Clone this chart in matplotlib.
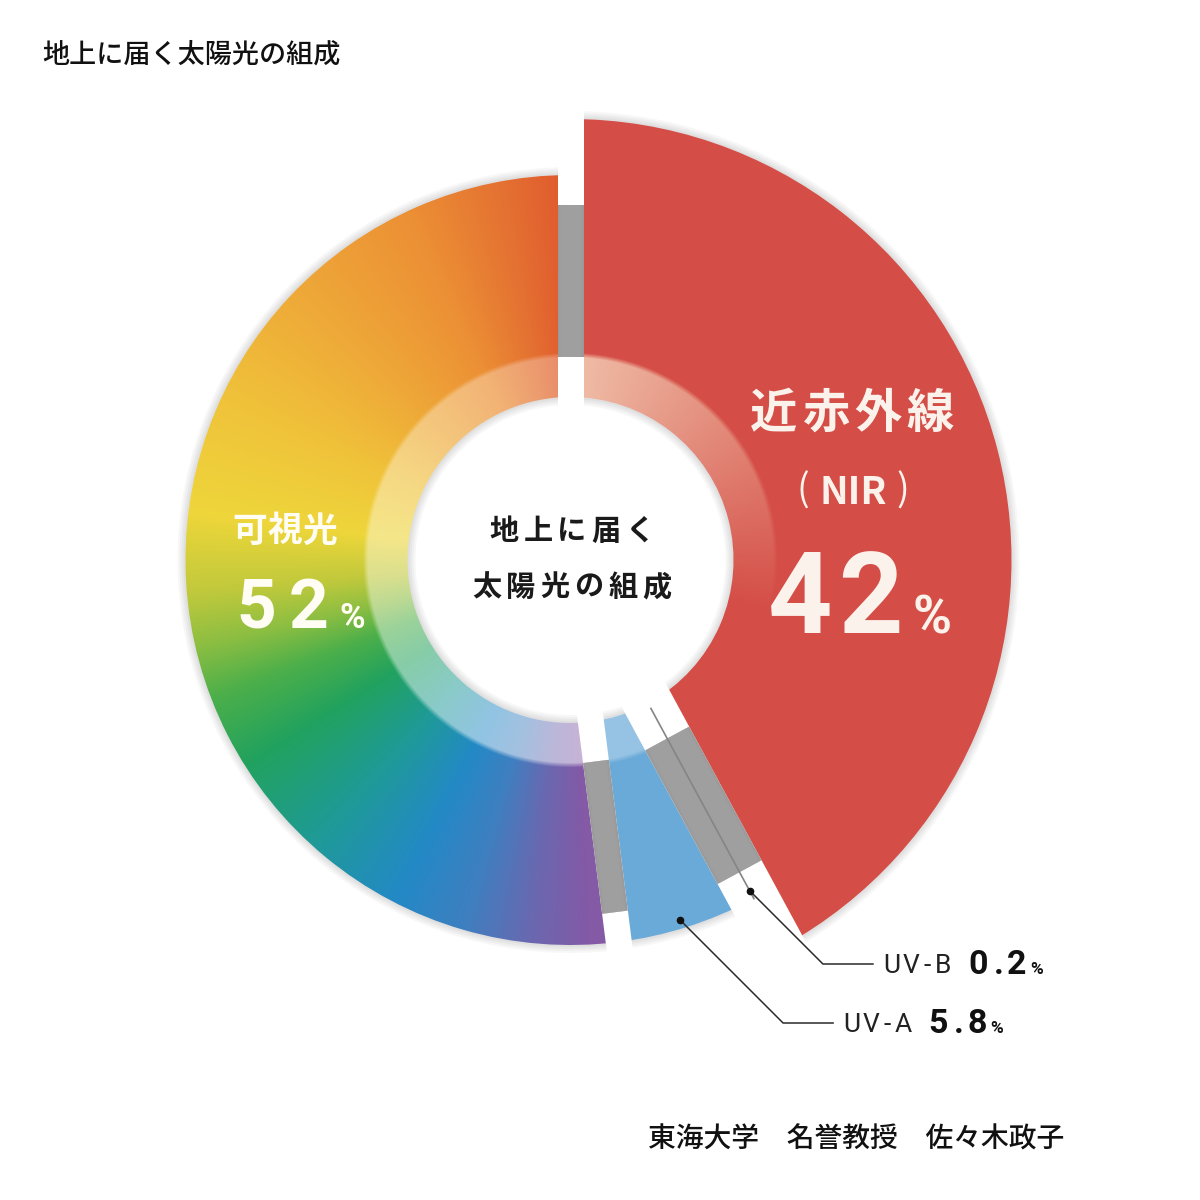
import numpy as np
import matplotlib.pyplot as plt
from matplotlib.patches import Wedge, Polygon
from matplotlib.colors import to_rgb

plt.rcParams['font.family'] = ['Noto Sans CJK JP', 'DejaVu Sans']

# --- data -------------------------------------------------------------
parts = ['近赤外線', 'UV-B', 'UV-A', '可視光']
shares = [42, 0.2, 5.8, 52]          # percent
title = '地上に届く太陽光の組成'
center_lines = ['地上に届く', '太陽光の組成']
credit = '東海大学\u3000名誉教授\u3000佐々木政子'

# spectrum for the visible slice: angle (deg, clockwise from top) -> colour
spec_angles = [172, 177, 186, 196, 207, 222, 238, 249, 257, 265, 277, 295, 315, 335, 350, 360]
spec_colors = ['#8459A6', '#8459A6', '#6A68B0', '#3F7FC0', '#2389C6', '#1F9A98',
               '#22A25E', '#4CAF4A', '#8CBE42', '#C0C93C', '#EED63A', '#F0C23A',
               '#EEA838', '#EC9035', '#E47032', '#E0582E']

# --- layout / style ----------------------------------------------------
cx, cy = 570.5, 560
r_in, r_band = 163, 205
ring_in, ring_out = 203, 355
outer = {'近赤外線': 441, 'UV-B': 386, 'UV-A': 385, '可視光': 385}
red, pale_red = '#D44D46', '#F0BFA8'
blue = '#6AAAD8'
gray = '#9A9A9A'
gap_half, tiny_half = 13, 25

fig = plt.figure(figsize=(12, 12), dpi=100)
ax = fig.add_axes([0, 0, 1, 1])
ax.set_xlim(0, 1200)
ax.set_ylim(1200, 0)
ax.axis('off')

cum = np.concatenate([[0], np.cumsum(shares)]) * 3.6   # degrees clockwise from top

yy, xx = np.mgrid[0:1200, 0:1200] + 0.5
phi = np.degrees(np.arctan2(xx - cx, -(yy - cy))) % 360
rr = np.hypot(xx - cx, yy - cy)
band = np.clip((r_band - rr) / 5 + 0.5, 0, 1)


def mix(base, target, w):
    return base * (1 - w[..., None]) + np.asarray(target) * w[..., None]


def slice_image(name):
    if name == '可視光':
        sc = np.array([to_rgb(c) for c in spec_colors])
        img = np.stack([np.interp(phi, spec_angles, sc[:, k]) for k in range(3)], -1)
        w = band * (0.28 + 0.27 * np.clip((360 - phi) / 187, 0, 1))
        return mix(img, (1, 1, 1), w)
    if name == '近赤外線':
        img = np.broadcast_to(np.array(to_rgb(red)), phi.shape + (3,))
        w = band * np.clip(1 - phi / 105, 0, 1) * (phi < 200)
        return mix(img, to_rgb(pale_red), w)
    img = np.broadcast_to(np.array(to_rgb(blue)), phi.shape + (3,))
    return mix(img, (1, 1, 1), 0.3 * band)


tiny = [s < 1 for s in shares]

for k, name in enumerate(parts):
    if tiny[k]:
        continue
    t1, t2 = cum[k] - 90, cum[k + 1] - 90
    # soft shadow
    for d in (2, 4, 6, 8):
        ax.add_patch(Wedge((cx, cy), outer[name] + d, t1, t2,
                           width=outer[name] - r_in + 2 * d, facecolor='black',
                           edgecolor='none', alpha=0.03, zorder=0.5))
    w = Wedge((cx, cy), outer[name], t1, t2, width=outer[name] - r_in,
              facecolor='none', edgecolor='none')
    ax.add_patch(w)
    im = ax.imshow(slice_image(name), extent=(0, 1200, 1200, 0), origin='upper',
                   interpolation='bilinear', zorder=1)
    im.set_clip_path(w)


def strip(phi_deg, half_w, r0, r1, **kw):
    p = np.radians(phi_deg)
    u = np.array([np.sin(p), -np.cos(p)])
    n = np.array([np.cos(p), np.sin(p)])
    c = np.array([cx, cy])
    pts = [c + r0 * u - half_w * n, c + r1 * u - half_w * n,
           c + r1 * u + half_w * n, c + r0 * u + half_w * n]
    return Polygon(pts, closed=True, **kw)


gaps = []
for k in range(len(shares)):
    if tiny[k] or tiny[k - 1]:
        continue
    gaps.append((cum[k], gap_half))
for k, t in enumerate(tiny):
    if t:
        gaps.append(((cum[k] + cum[k + 1]) / 2, tiny_half))

for ang, hw in gaps:
    ax.add_patch(strip(ang, hw, 0, 480, facecolor='white', edgecolor='none', zorder=2))
    ax.add_patch(strip(ang, hw, ring_in, ring_out, facecolor=gray, edgecolor='none', zorder=3))
    for d in (1.5, 3):
        ax.add_patch(strip(ang, hw - d, ring_in, ring_out, facecolor='#A4A4A4',
                           edgecolor='none', alpha=0.35, zorder=3))

# tiny slice drawn as a thin line, plus leader lines for the UV slices
rows = {'UV-B': 964, 'UV-A': 1023}
r_dot = 376
for k, name in enumerate(parts):
    if name not in rows:
        continue
    if tiny[k]:
        mid_deg = (cum[k] + cum[k + 1]) / 2
    else:
        # middle of the part of the slice left after the gaps are cut out
        if tiny[k - 1]:
            lo = (cum[k - 1] + cum[k]) / 2 + np.degrees(tiny_half / r_dot)
        else:
            lo = cum[k] + np.degrees(gap_half / r_dot)
        hi = cum[k + 1] - np.degrees(gap_half / r_dot)
        mid_deg = (lo + hi) / 2
    mid = np.radians(mid_deg)
    u = np.array([np.sin(mid), -np.cos(mid)])
    if tiny[k]:
        a, b = np.array([cx, cy]) + 168 * u, np.array([cx, cy]) + outer[name] * u
        ax.plot([a[0], b[0]], [a[1], b[1]], color='#858585', lw=1.2, zorder=4,
                solid_capstyle='butt')
    dot = np.array([cx, cy]) + r_dot * u
    ey = rows[name]
    ex = dot[0] + (ey - dot[1])
    ax.plot([dot[0], ex, ex + 50], [dot[1], ey, ey], color='#2a2a2a', lw=1.1, zorder=5)
    ax.plot(dot[0], dot[1], 'o', color='#111111', ms=4.5, zorder=6)
    tx = ex + 50 + 11
    for ch, off in zip(name, [8, 27, 43, 59]):
        ax.text(tx + off, ey + 9, ch, fontsize=19, family='Roboto', color='#222222',
                ha='center', va='baseline', zorder=6)
    for ch, off in zip(f'{shares[k]:g}', [94, 115, 133]):
        ax.text(tx + off, ey + 10, ch, fontsize=24.5, family='Roboto', weight='bold',
                color='#111111', ha='center', va='baseline', zorder=6)
    ax.text(tx + 153, ey + 10, '%', fontsize=12.5, family='Roboto', weight='bold',
            color='#111111', ha='center', va='baseline', zorder=6)


def spaced(x_first, y, s, step, **kw):
    for i, ch in enumerate(s):
        ax.text(x_first + i * step, y, ch, ha='center', zorder=7, **kw)


# centre caption
for line, y in zip(center_lines, [531, 587]):
    step = 34
    spaced(572 - step * (len(line) - 1) / 2, y, line, step, va='center',
           fontsize=21, weight='bold', color='#1a1a1a')

# NIR labels
white = '#FBF2EC'
spaced(774, 414, parts[0], 52, va='center', fontsize=34, weight='bold', color=white)
ax.text(853, 493, 'NIR', ha='center', va='center', fontsize=27.5, weight='bold',
        color=white, zorder=7)
ax.text(803, 491, '(', ha='center', va='center', fontsize=27, color=white, zorder=7)
ax.text(903, 491, ')', ha='center', va='center', fontsize=27, color=white, zorder=7)
spaced(800, 633, f'{shares[0]:g}', 70, va='baseline', fontsize=81, family='Roboto',
       weight='bold', color=white)
ax.text(932, 633, '%', ha='center', va='baseline', fontsize=38, family='Roboto',
        weight='bold', color=white, zorder=7)

# visible labels
vis_white = '#FFFDF4'
spaced(250, 531, parts[3], 35, va='center', fontsize=25, weight='bold', color=vis_white)
spaced(256, 628, f'{shares[3]:g}', 53, va='baseline', fontsize=50, family='Roboto',
       weight='bold', color=vis_white)
ax.text(352, 628, '%', ha='center', va='baseline', fontsize=25, family='Roboto',
        weight='bold', color=vis_white, zorder=7)

# title and credit
ax.text(42, 55, title, ha='left', va='center', fontsize=19.5, weight='medium',
        color='#111111')
ax.text(648, 1139, credit, ha='left', va='center', fontsize=20, weight='medium',
        color='#111111')

fig.savefig('out.png', dpi=100)
